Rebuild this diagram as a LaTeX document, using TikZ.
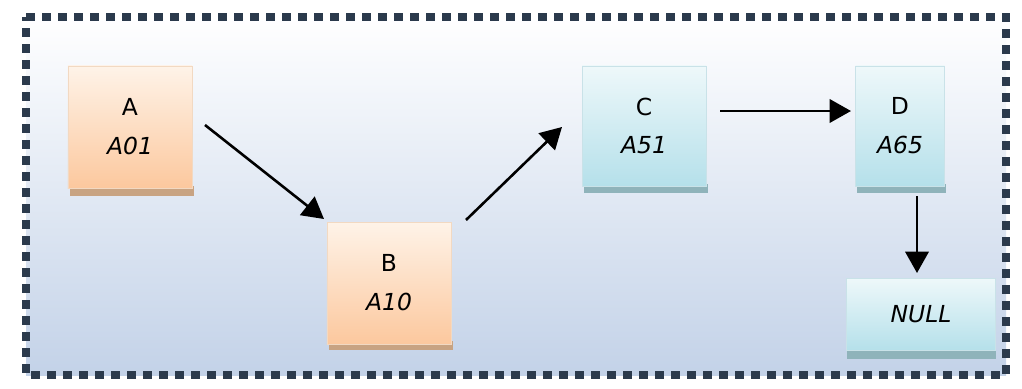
\documentclass[tikz,border=0pt]{standalone}
\usepackage{fontspec}
\setmainfont{DejaVu Sans}
\usetikzlibrary{arrows.meta}
\definecolor{frame}{HTML}{2B3A4C}
\definecolor{bgtop}{HTML}{FFFFFF}
\definecolor{bgbot}{HTML}{C3D2E8}
\definecolor{ortop}{HTML}{FEF3E8}
\definecolor{orbot}{HTML}{FCC89E}
\definecolor{orsh}{HTML}{C8A382}
\definecolor{cytop}{HTML}{EEF8FA}
\definecolor{cybot}{HTML}{B5E0EA}
\definecolor{cysh}{HTML}{8FB3BA}
\definecolor{edgeor}{HTML}{F2D9C2}
\definecolor{edgecy}{HTML}{C9E2E8}
\tikzset{
  px/.style={x=0.03cm,y=-0.03cm},
  obox/.style={draw=edgeor, line width=0.6pt, top color=ortop, bottom color=orbot, align=center, inner sep=0pt, font=\fontsize{20}{24}\selectfont},
  cbox/.style={draw=edgecy, line width=0.6pt, top color=cytop, bottom color=cybot, align=center, inner sep=0pt, font=\fontsize{20}{24}\selectfont},
  conn/.style={line width=2.2pt, -{Triangle[length=0.64cm,width=0.7cm]}},
}
\begin{document}
\begin{tikzpicture}[px]
\useasboundingbox (0,0) rectangle (1022,389);
\fill[white] (0,0) rectangle (1022,389);
\shade[top color=bgtop, bottom color=bgbot] (26,17) rectangle (1006,375);
\draw[frame, line width=0.26cm, dash pattern=on 0.26cm off 0.22cm] (26,17) -- (1006,17) -- (1006,375) -- (26,375) -- cycle;
% shadows
\fill[orsh] (70,186) rectangle (194,196);
\fill[orsh] (329,341) rectangle (453,350);
\fill[cysh] (584,184) rectangle (708,193);
\fill[cysh] (857,184) rectangle (946,193);
\fill[cysh] (847,350) rectangle (996,359);
% boxes
\node[obox, minimum width=3.72cm, minimum height=3.66cm] (A) at (130,127) {A\\[0.32cm]\textit{A01}};
\node[obox, minimum width=3.72cm, minimum height=3.66cm] (B) at (389,283) {B\\[0.32cm]\textit{A10}};
\node[cbox, minimum width=3.72cm, minimum height=3.6cm] (C) at (644,126) {C\\[0.32cm]\textit{A51}};
\node[cbox, minimum width=2.67cm, minimum height=3.6cm] (D) at (900,126) {D\\[0.32cm]\textit{A65}};
\node[cbox, minimum width=4.47cm, minimum height=2.16cm] (N) at (921,314) {\textit{NULL}};
% connectors
\coordinate (a1) at (205,125);
\coordinate (b0) at (324,219);
\coordinate (b1) at (466,220);
\coordinate (c0) at (562,127);
\coordinate (c1) at (720,111);
\coordinate (d0) at (851,111);
\coordinate (d1) at (917,196);
\coordinate (n0) at (917,273);
\draw[conn] (a1) -- (b0);
\draw[conn] (b1) -- (c0);
\draw[conn] (c1) -- (d0);
\draw[conn] (d1) -- (n0);
\end{tikzpicture}
\end{document}
